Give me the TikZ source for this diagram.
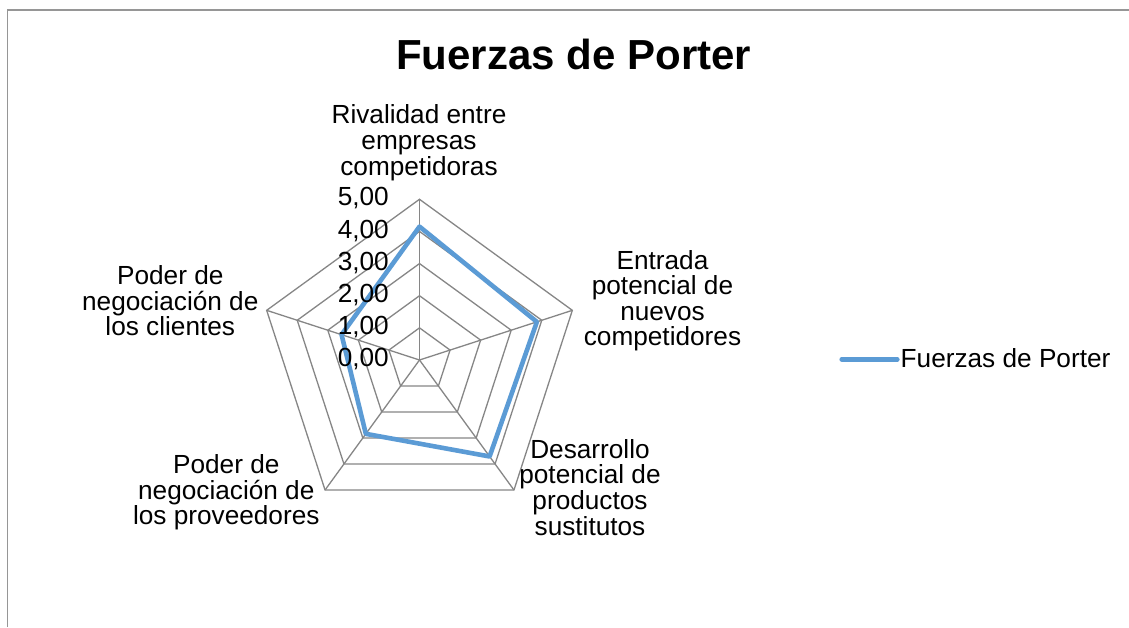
\documentclass[tikz,border=0pt]{standalone}
\usepackage{fontspec}
\setmainfont{Liberation Sans}
\usetikzlibrary{calc}
\definecolor{gridgray}{RGB}{134,134,134}
\definecolor{framegray}{RGB}{150,150,150}
\definecolor{seriesblue}{RGB}{91,155,213}
\begin{document}
\begin{tikzpicture}[x=1pt,y=1pt,
  gridline/.style={draw=gridgray, line width=1.3pt, line join=miter},
  series/.style={draw=seriesblue, line width=4.6pt, line join=round},
  catlabel/.style={anchor=base, align=center, inner sep=0pt, font=\fontsize{26.2}{25.6}\selectfont},
  ticklabel/.style={anchor=base east, inner sep=0pt, font=\fontsize{26.2}{25.6}\selectfont},
  framestyle/.style={draw=framegray, line width=1.2pt}]
\useasboundingbox (0,0) rectangle (1129,627);
\fill[white] (0,0) rectangle (1129,627);
% frame
\coordinate (fl) at (7.3,0);
\coordinate (ftl) at (7.3,617);
\coordinate (ftr) at (1129,617);
\draw[framestyle] (fl) -- (ftl) -- (ftr);
% title
\node[anchor=base, inner sep=0pt, font=\fontsize{42}{45}\selectfont\bfseries] (title) at (573.7,557) {Fuerzas de Porter};
% radar
\coordinate (c) at (419.5,267);
\foreach \k in {1,...,5}{
  \draw[gridline, shift={(c)}] (90:{\k*32.14}) -- (18:{\k*32.14}) -- (-54:{\k*32.14}) -- (-126:{\k*32.14}) -- (162:{\k*32.14}) -- cycle;
}
\foreach \a/\n in {90/a,18/b,-54/d,-126/e,162/f}{
  \coordinate (ax\n) at ($(c)+(\a:160.7)$);
  \draw[gridline] (c) -- (ax\n);
}
% data
\coordinate (p1) at ($(c)+(90:{4.15*32.14})$);
\coordinate (p2) at ($(c)+(18:{3.84*32.14})$);
\coordinate (p3) at ($(c)+(-54:{3.71*32.14})$);
\coordinate (p4) at ($(c)+(-126:{2.84*32.14})$);
\coordinate (p5) at ($(c)+(162:{2.55*32.14})$);
\draw[series] (p1) -- (p2) -- (p3) -- (p4) -- (p5) -- cycle;
% tick labels
\foreach \k in {0,...,5}{
  \node[ticklabel] (t\k) at (389,{260.4+32.14*\k}) {\k,00};
}
% category labels (anchor = baseline of last line)
\node[catlabel] (l1) at (419,451.8) {Rivalidad entre\\empresas\\competidoras};
\node[catlabel] (l2) at (662.5,281) {Entrada\\potencial de\\nuevos\\competidores};
\node[catlabel] (l3) at (590,92) {Desarrollo\\potencial de\\productos\\sustitutos};
\node[catlabel] (l4) at (226.3,102.3) {Poder de\\negociación de\\los proveedores};
\node[catlabel] (l5) at (170.3,291.3) {Poder de\\negociación de\\los clientes};
% legend
\coordinate (lg1) at (841.7,267.7);
\coordinate (lg2) at (897.3,267.7);
\draw[series, line cap=round] (lg1) -- (lg2);
\node[anchor=base west, inner sep=0pt, font=\fontsize{26.2}{25.6}\selectfont] (legtext) at (900.5,259.7) {Fuerzas de Porter};
\end{tikzpicture}
\end{document}
